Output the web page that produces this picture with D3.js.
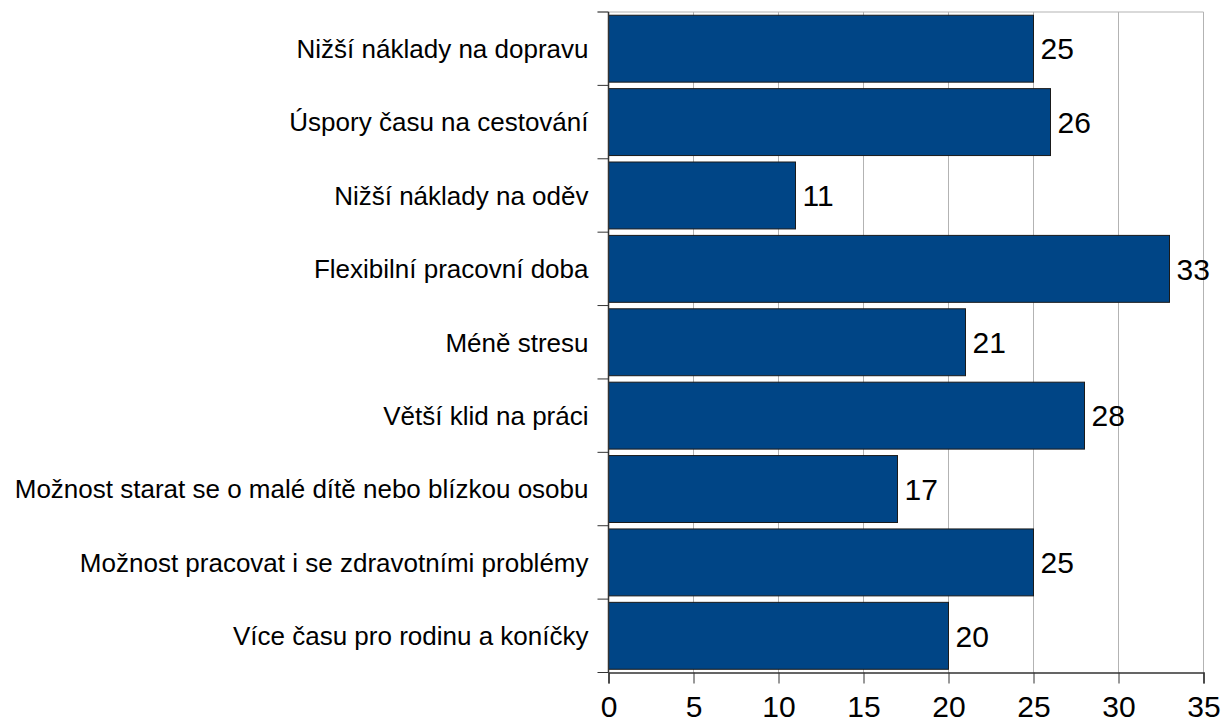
<!DOCTYPE html>
<html><head><meta charset="utf-8">
<script src="https://cdn.jsdelivr.net/npm/d3@7"></script>
<style>body{margin:0;background:#fff}svg{display:block}text{font-family:"Liberation Sans",Arial,sans-serif}</style>
</head><body>
<svg id="c" width="1225" height="724"></svg>
<script>
const categories = ["Nižší náklady na dopravu","Úspory času na cestování","Nižší náklady na oděv","Flexibilní pracovní doba","Méně stresu","Větší klid na práci","Možnost starat se o malé dítě nebo blízkou osobu","Možnost pracovat i se zdravotními problémy","Více času pro rodinu a koníčky"];
const values = [25,26,11,33,21,28,17,25,20];
const xTicks = [0,5,10,15,20,25,30,35];

const svg = d3.select("#c");
const L = 608.5, R = 1203.5, T = 12, B = 672.5;
const x = d3.scaleLinear().domain([0,35]).range([L,R]);
const y = d3.scaleBand().domain(categories).range([T,B]).paddingInner(0.088).paddingOuter(0.044);

// gridlines
svg.append("g").selectAll("line").data(xTicks.slice(1)).join("line")
  .attr("x1",d=>x(d)).attr("x2",d=>x(d)).attr("y1",T).attr("y2",B)
  .attr("stroke","#b3b3b3").attr("stroke-width",1);
svg.append("line").attr("x1",L-11).attr("x2",R).attr("y1",T).attr("y2",T).attr("stroke","#b3b3b3").attr("stroke-width",1);

// bars
svg.append("g").selectAll("rect").data(values).join("rect")
  .attr("x",x(0)).attr("y",(d,i)=>y(categories[i]))
  .attr("width",d=>x(d)-x(0)).attr("height",y.bandwidth())
  .attr("fill","#004586").attr("stroke","#1a1a1a").attr("stroke-width",1);

// value labels
svg.append("g").selectAll("text").data(values).join("text")
  .attr("x",d=>x(d)+7).attr("y",(d,i)=>y(categories[i])+y.bandwidth()/2)
  .attr("dy","0.36em").attr("font-size",30).attr("fill","#000").text(d=>d);

// y axis
const yb = d3.range(categories.length+1).map(i=>T+i*(B-T)/categories.length);
svg.append("g").selectAll("line").data(yb).join("line")
  .attr("x1",L-11).attr("x2",L).attr("y1",d=>d).attr("y2",d=>d).attr("stroke","#333").attr("stroke-width",1);
svg.append("line").attr("x1",L).attr("x2",L).attr("y1",T).attr("y2",B).attr("stroke","#333").attr("stroke-width",1.5);
svg.append("g").selectAll("text").data(categories).join("text")
  .attr("x",L-20).attr("y",d=>y(d)+y.bandwidth()/2).attr("dy","0.36em")
  .attr("text-anchor","end").attr("font-size",26).attr("fill","#000").text(d=>d);

// x axis
const xa = svg.append("g").attr("transform",`translate(0,${B})`)
  .call(d3.axisBottom(x).tickValues(xTicks).tickSize(11).tickPadding(12).tickFormat(d3.format("d")));
xa.select(".domain").attr("stroke","#333").attr("stroke-width",1.5);
xa.selectAll(".tick line").attr("stroke","#333");
xa.selectAll("text").attr("font-size",30).attr("fill","#000").attr("font-family","Liberation Sans, Arial, sans-serif");
</script>
</body></html>
